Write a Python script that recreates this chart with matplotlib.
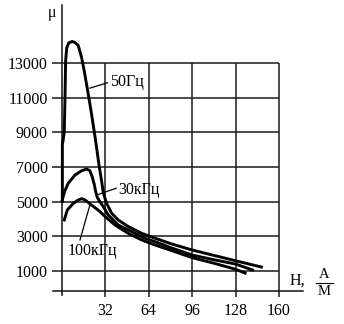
import matplotlib
matplotlib.use("Agg")
import matplotlib.pyplot as plt

plt.rcParams['font.family'] = ['Liberation Serif', 'DejaVu Serif']

# ---- data ----
x_50 = [0.3, 0.3, 0.8, 1.7, 2.2, 2.7, 3.5, 5.0, 7.6, 10.0, 12.0, 14.5, 16.5, 18.2, 19.9,
        21.9, 23.8, 25.6, 27.5, 29.0, 30.5, 32.9, 36.6, 41.5, 48.9, 58.8, 68.6, 80, 96, 112, 128, 147]
y_50 = [5000, 8300, 8500, 9000, 10800, 13100, 13850, 14150, 14230, 14150, 14000, 13300, 12500,
        11730, 10960, 10000, 9040, 8080, 7000, 6300, 5500, 4900, 4330, 3940, 3560, 3170, 2890,
        2580, 2210, 1900, 1590, 1230]

x_30k = [0.2, 2.0, 4.6, 9.6, 14.5, 18.2, 20.6, 22.3, 23.8, 24.8, 26.0, 27.5, 30.5, 34.1,
         41.5, 51.4, 61.2, 68.6, 80, 96, 112, 128, 140.5]
y_30k = [5090, 5600, 6050, 6530, 6780, 6880, 6780, 6430, 6000, 5600, 5250, 5050, 4710, 4230,
         3650, 3270, 2890, 2690, 2350, 1920, 1650, 1400, 1060]

x_100k = [1.7, 3.9, 8.3, 12.0, 14.5, 16.9, 21.8, 26.7, 31.7, 39.1, 48.9, 58.8, 68.6, 80,
          96, 112, 128, 135]
y_100k = [3940, 4510, 4900, 5090, 5170, 5100, 4800, 4510, 4150, 3650, 3170, 2790, 2500, 2200,
          1770, 1450, 1100, 880]

x_ticks = [32, 64, 96, 128, 160]
y_ticks = [1000, 3000, 5000, 7000, 9000, 11000, 13000]

labels = ["50Гц", "30кГц", "100кГц"]
label_pos = [(35.4, 11900), (41.3, 5670), (4.4, 2150)]
leader_from = [(20.6, 11540), (25.6, 5380), (20.6, 4810)]
leader_to = [(33.5, 11850), (40.0, 5770), (13.3, 2790)]

# ---- figure ----
fig = plt.figure(figsize=(3.44, 3.24), dpi=100)
ax = fig.add_axes([53/344, 29/324, 250/344, 290/324])
ax.set_xlim(-6.6, 177.7)
ax.set_ylim(-383, 16332)

for s in ['top', 'right']:
    ax.spines[s].set_visible(False)
ax.spines['left'].set_position(('data', 0))
ax.spines['bottom'].set_position(('data', -153))
for s in ['left', 'bottom']:
    ax.spines[s].set_linewidth(1.1)
    ax.spines[s].set_color('#111111')

gw = 1.1
gc = '#1a1a1a'
ax.hlines(y_ticks, 0, 160, colors=gc, linewidth=gw, zorder=1)
ax.vlines(x_ticks, -153, 13000, colors=gc, linewidth=gw, zorder=1)

ax.set_xticks(x_ticks)
ax.set_xticklabels([str(v) for v in x_ticks])
ax.set_yticks(y_ticks)
ax.set_yticklabels([str(v) for v in y_ticks])
ax.tick_params(axis='y', direction='out', length=7.2, width=gw, color=gc, pad=3,
               labelsize=11.5)
ax.tick_params(axis='x', direction='out', length=4.3, width=gw, color=gc, pad=4,
               labelsize=11.5)

lw = 2.1
ax.plot(x_50, y_50, color='black', linewidth=lw, zorder=3, solid_joinstyle='round')
ax.plot(x_30k, y_30k, color='black', linewidth=lw, zorder=3, solid_joinstyle='round')
ax.plot(x_100k, y_100k, color='black', linewidth=lw, zorder=3, solid_joinstyle='round')

for lab, (tx, ty), (fx, fy), (ex, ey) in zip(labels, label_pos, leader_from, leader_to):
    ax.plot([fx, ex], [fy, ey], color='black', linewidth=0.9, zorder=3)
    ax.text(tx, ty, lab, fontsize=11.5, ha='left', va='center', zorder=4)

ax.text(-7.4, 15880, "μ", fontsize=11.5, ha='center', va='center', clip_on=False)
ax.text(173.5, 420, "H,", fontsize=11.5, ha='center', va='center', clip_on=False)
ax.text(193, 790, "А", fontsize=10.5, ha='center', va='center', clip_on=False)
ax.text(193, -200, "М", fontsize=10.5, ha='center', va='center', clip_on=False)
ax.plot([187, 199.5], [300, 300], color='black', linewidth=0.8, clip_on=False)

fig.savefig("out.png", dpi=100)
